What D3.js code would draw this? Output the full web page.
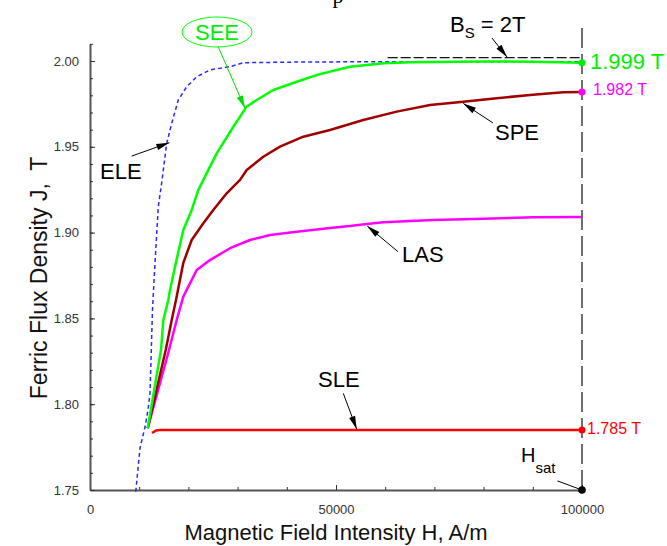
<!DOCTYPE html>
<html>
<head>
<meta charset="utf-8">
<script src="https://cdn.jsdelivr.net/npm/d3@7"></script>
<style>
  html, body { margin: 0; padding: 0; background: #fff; }
  svg { display: block; font-family: Arial, "Liberation Sans", sans-serif; }
</style>
</head>
<body>
<svg id="chart" width="667" height="546"></svg>
<script>
// ---------------- data (H in A/m, J in T) ----------------
const eleH = [9300, 10160, 11180, 11790, 12200, 12700, 13210, 13880, 14570, 15590, 16610, 17950, 19650, 21690, 24390, 28460, 31160, 42680, 60000, 80000, 100000];
const eleJ = [1.749, 1.7745, 1.7867, 1.7966, 1.8065, 1.855, 1.8823, 1.9151, 1.9289, 1.952, 1.9637, 1.9773, 1.985, 1.9908, 1.9948, 1.9967, 1.999, 1.9994, 1.9996, 1.9996, 1.9996];

const seeH = [11730, 14430, 14900, 15910, 16260, 17280, 18960, 20670, 22010, 23030, 25750, 29130, 31850, 33880, 37260, 42010, 46080, 48780, 52850, 59610, 65040, 79940, 90000, 100000];
const seeJ = [1.786, 1.8316, 1.849, 1.8607, 1.8666, 1.8801, 1.9015, 1.9132, 1.9248, 1.9307, 1.9462, 1.9617, 1.9734, 1.9773, 1.9831, 1.9879, 1.9918, 1.9938, 1.9967, 1.9987, 1.9992, 1.9997, 1.9996, 1.999];

const speH = [11730, 15390, 16610, 17480, 18960, 20670, 23030, 25060, 27780, 30490, 31850, 35220, 38620, 43350, 48780, 55550, 62340, 69110, 75870, 82660, 89430, 96200, 100000];
const speJ = [1.786, 1.8316, 1.8491, 1.8607, 1.8823, 1.8957, 1.9054, 1.9132, 1.9229, 1.9307, 1.9365, 1.9442, 1.9501, 1.9559, 1.9598, 1.9656, 1.9705, 1.9744, 1.9763, 1.9783, 1.9802, 1.9818, 1.982];

const lasH = [11730, 16060, 17620, 18960, 21690, 24390, 28460, 32520, 36590, 42010, 48780, 52850, 56240, 59610, 65040, 69780, 79940, 90100, 100000];
const lasJ = [1.786, 1.8316, 1.8491, 1.8627, 1.8782, 1.884, 1.8909, 1.8957, 1.8986, 1.9005, 1.9027, 1.9038, 1.905, 1.906, 1.9068, 1.9073, 1.9081, 1.9089, 1.9091];

const sleH = [12600, 13410, 14230, 20000, 50000, 100000];
const sleJ = [1.7832, 1.7847, 1.785, 1.785, 1.785, 1.785];

const xMajorTicks = [0, 50000, 100000];
const xMinorTicks = [0, 10000, 20000, 30000, 40000, 50000, 60000, 70000, 80000, 90000, 100000];
const yMajorTicks = [1.75, 1.80, 1.85, 1.90, 1.95, 2.00];
const yMinorTicks = d3.range(175, 202, 1).map(v => v / 100);

const endValues = [1.999, 1.982, 1.785];
const endLabels = ["1.999 T", "1.982 T", "1.785 T"];
const saturationB = 2.002;   // B_S = 2T reference line
const hSat = 100000;

// ---------------- scales ----------------
const svg = d3.select("#chart");
const x = d3.scaleLinear().domain([0, 100000]).range([90, 582]);
const y = d3.scaleLinear().domain([1.75, 2.01]).range([490, 490 - 0.26 * 1716]);

// ---------------- title remnant (cropped, as in the source image) ----------------
svg.append("text").attr("x", 338).attr("y", 3)
  .attr("font-family", "'Liberation Serif', 'Times New Roman', serif")
  .attr("font-size", 22).attr("text-anchor", "middle").text("p");

// ---------------- axes ----------------
const axisColor = "#555";
const gx = svg.append("g").attr("transform", `translate(0,${y(1.75)})`);
gx.call(d3.axisBottom(x).tickValues(xMinorTicks).tickSizeInner(-3).tickSizeOuter(0).tickFormat(""));
gx.call(g => g.select(".domain").attr("stroke", axisColor).attr("stroke-width", 2));
gx.selectAll(".tick line").attr("stroke", "#333");
const gx2 = svg.append("g").attr("transform", `translate(0,${y(1.75)})`);
gx2.call(d3.axisBottom(x).tickValues(xMajorTicks).tickSizeInner(-5).tickSizeOuter(0).tickPadding(15).tickFormat(d3.format("d")));
gx2.select(".domain").remove();
gx2.selectAll(".tick line").attr("stroke", "#333");
gx2.selectAll("text").attr("font-size", 13).attr("fill", "#333").attr("font-family", "Arial, 'Liberation Sans', sans-serif");

const gy = svg.append("g").attr("transform", `translate(${x(0)},0)`);
gy.call(d3.axisLeft(y).tickValues(yMinorTicks).tickSizeInner(-3).tickSizeOuter(0).tickFormat(""));
gy.select(".domain").attr("stroke", axisColor).attr("stroke-width", 2);
gy.selectAll(".tick line").attr("stroke", "#333");
const gy2 = svg.append("g").attr("transform", `translate(${x(0)},0)`);
gy2.call(d3.axisLeft(y).tickValues(yMajorTicks).tickSizeInner(-5).tickSizeOuter(0).tickPadding(11).tickFormat(d3.format(".2f")));
gy2.select(".domain").remove();
gy2.selectAll(".tick line").attr("stroke", "#333");
gy2.selectAll("text").attr("font-size", 13).attr("fill", "#333").attr("font-family", "Arial, 'Liberation Sans', sans-serif");

// axis titles
svg.append("text").attr("x", (x(0) + x(100000)) / 2).attr("y", 540)
  .attr("text-anchor", "middle").attr("font-size", 22).attr("fill", "#111")
  .text("Magnetic Field Intensity H, A/m");
svg.append("text").attr("transform", `translate(47,278) rotate(-90)`)
  .attr("text-anchor", "middle").attr("font-size", 23).attr("fill", "#111")
  .attr("xml:space", "preserve").style("white-space", "pre")
  .text("Ferric Flux Density J,  T");

// ---------------- reference lines ----------------
svg.append("line")
  .attr("x1", x(hSat)).attr("x2", x(hSat)).attr("y1", y(1.75)).attr("y2", y(2.0198))
  .attr("stroke", "#111").attr("stroke-width", 1.2).attr("stroke-dasharray", "20,6");
svg.append("line")
  .attr("x1", x(60500)).attr("x2", x(100000)).attr("y1", y(saturationB)).attr("y2", y(saturationB))
  .attr("stroke", "#111").attr("stroke-width", 1.2).attr("stroke-dasharray", "10,3");

// ---------------- curves ----------------
const line = d3.line().x(d => x(d[0])).y(d => y(d[1]));
const zip = (a, b) => a.map((v, i) => [v, b[i]]);
const series = [
  { H: eleH, J: eleJ, color: "#2a2aff", width: 1.5, dash: "4,3" },
  { H: lasH, J: lasJ, color: "#ff00ff", width: 2.5, dash: null },
  { H: speH, J: speJ, color: "#a00000", width: 2.5, dash: null },
  { H: seeH, J: seeJ, color: "#00ff00", width: 2.5, dash: null },
  { H: sleH, J: sleJ, color: "#ff0000", width: 2.5, dash: null }
];
series.forEach(s => {
  svg.append("path").datum(zip(s.H, s.J)).attr("d", line)
    .attr("fill", "none").attr("stroke", s.color).attr("stroke-width", s.width)
    .attr("stroke-linejoin", "round")
    .attr("stroke-dasharray", s.dash);
});

// ---------------- end markers and labels ----------------
const endColors = ["#00ee00", "#ff00ff", "#ff0000"];
const endSizes = [22, 16, 16];
const endDx = [8, 11, 5];
const endDy = [6, 3, 4];
endValues.forEach((v, i) => {
  svg.append("circle").attr("cx", x(hSat)).attr("cy", y(v)).attr("r", 3.5).attr("fill", endColors[i]);
  svg.append("text").attr("x", x(hSat) + endDx[i]).attr("y", y(v) + endDy[i])
    .attr("font-size", endSizes[i]).attr("fill", endColors[i]).text(endLabels[i]);
});
svg.append("circle").attr("cx", x(hSat)).attr("cy", y(1.75)).attr("r", 3.8).attr("fill", "#000");

// ---------------- annotations ----------------
function arrow(h1, j1, h2, j2, color, head) {
  const x1 = x(h1), y1 = y(j1), x2 = x(h2), y2 = y(j2);
  svg.append("line").attr("x1", x1).attr("y1", y1).attr("x2", x2).attr("y2", y2)
    .attr("stroke", color).attr("stroke-width", 1);
  if (head) {
    const a = Math.atan2(y2 - y1, x2 - x1), L = 13, W = 3.2;
    const bx = x2 - L * Math.cos(a), by = y2 - L * Math.sin(a);
    const p = [[x2, y2], [bx + W * Math.sin(a), by - W * Math.cos(a)], [bx - W * Math.sin(a), by + W * Math.cos(a)]];
    svg.append("polygon").attr("points", p.map(q => q.join(",")).join(" ")).attr("fill", color);
  }
}

// ELE
svg.append("text").attr("x", x(2030)).attr("y", y(1.9312)).attr("font-size", 22).attr("fill", "#000").text("ELE");
arrow(8480, 1.9446, 16120, 1.9524, "#000", true);

// SEE
svg.append("ellipse").attr("cx", x(25810)).attr("cy", y(2.0169)).attr("rx", 35).attr("ry", 15)
  .attr("fill", "none").attr("stroke", "#00ff00").attr("stroke-width", 1);
svg.append("text").attr("x", x(25810)).attr("y", y(2.0169) + 8).attr("text-anchor", "middle")
  .attr("font-size", 22).attr("fill", "#00ee00").text("SEE");
arrow(26080, 2.0082, 31500, 1.9724, "#00dd00", true);

// Bs = 2T
const bs = svg.append("text").attr("x", x(73170)).attr("y", y(2.0169)).attr("font-size", 22).attr("fill", "#000");
bs.append("tspan").text("B");
bs.append("tspan").attr("font-size", 15).attr("dy", 6).text("S");
bs.append("tspan").attr("dy", -6).text(" = 2T");
arrow(81700, 2.0134, 84760, 2.0023, "#000", true);

// SPE
svg.append("text").attr("x", x(82320)).attr("y", y(1.954)).attr("font-size", 22).attr("fill", "#000").text("SPE");
arrow(81900, 1.9639, 75870, 1.9753, "#000", true);

// LAS
svg.append("text").attr("x", x(63410)).attr("y", y(1.8829)).attr("font-size", 22).attr("fill", "#000").text("LAS");
arrow(62600, 1.8889, 56360, 1.9038, "#000", true);

// SLE
svg.append("text").attr("x", x(46340)).attr("y", y(1.81)).attr("font-size", 22).attr("fill", "#000").text("SLE");
arrow(51480, 1.8063, 54200, 1.7855, "#000", true);

// H_sat
const hs = svg.append("text").attr("x", x(87600)).attr("y", y(1.7663)).attr("font-size", 20).attr("fill", "#000");
hs.append("tspan").text("H");
hs.append("tspan").attr("font-size", 15).attr("dy", 11).text("sat");
arrow(95000, 1.7553, 100000, 1.75, "#000", false);
</script>
</body>
</html>
